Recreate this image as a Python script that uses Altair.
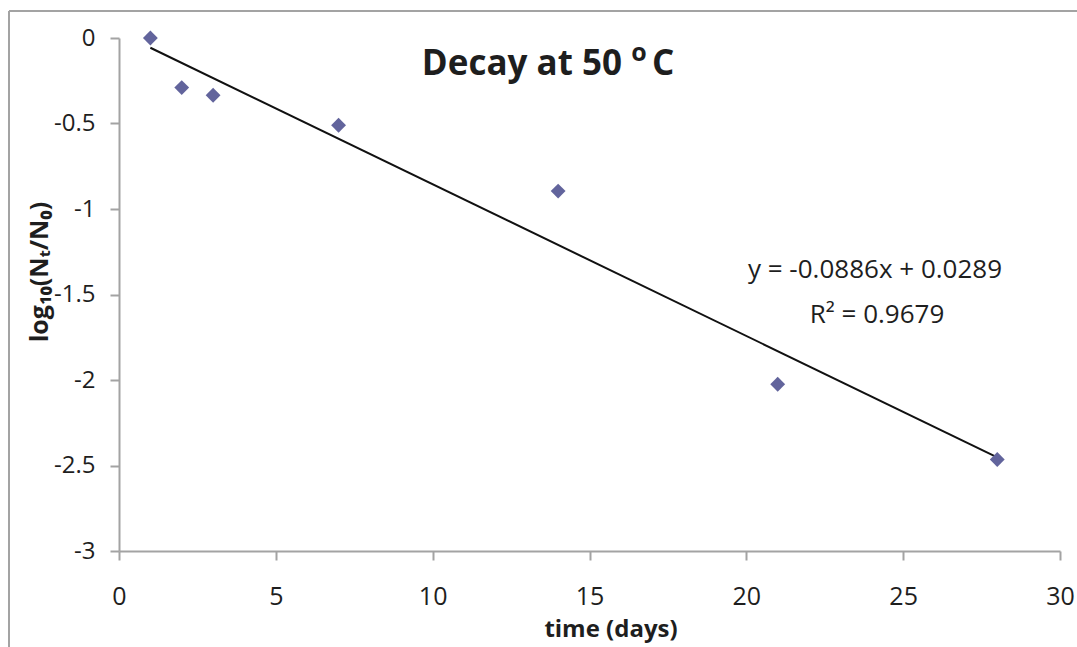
import altair as alt
import pandas as pd

# ---- data ----
days = [1, 2, 3, 7, 14, 21, 28]
log_ratio = [0.0, -0.29, -0.335, -0.51, -0.895, -2.025, -2.465]

x_ticks = [0, 5, 10, 15, 20, 25, 30]
y_ticks = [0, -0.5, -1, -1.5, -2, -2.5, -3]

title_main = "Decay at 50"
title_sup = "o"
title_end = "C"
x_title = "time (days)"
y_title = "log\u2081\u2080(N\u209c/N\u2080)"
equation = "y = -0.0886x + 0.0289"
r_squared = "R\u00b2 = 0.9679"

df = pd.DataFrame({"days": days, "log_ratio": log_ratio})
one = pd.DataFrame({"k": [0]})

W, H = 941, 513
FONT = "Open Sans"
GRAY = "#a3a3a3"
TXT = "#1e1e1e"

xs = alt.Scale(domain=[0, 30], nice=False, zero=False)
ys = alt.Scale(domain=[-3, 0], nice=False, zero=False)

points = alt.Chart(df).mark_point(
    shape="diamond", filled=True, size=220, color="#62649c", opacity=1
).encode(
    x=alt.X("days:Q", scale=xs, title=None,
            axis=alt.Axis(values=x_ticks, grid=False, labelFontSize=25,
                          labelPadding=24, labelFlush=False,
                          labelExpr="datum.value + ''")),
    y=alt.Y("log_ratio:Q", scale=ys, title=None,
            axis=alt.Axis(values=y_ticks, grid=False, labelFontSize=24,
                          labelPadding=15, labelFlush=False,
                          labelExpr="datum.value + ''")),
)

trend = alt.Chart(df).transform_regression(
    "days", "log_ratio"
).mark_line(color="#111111", strokeWidth=2).encode(
    x=alt.X("days:Q", scale=xs),
    y=alt.Y("log_ratio:Q", scale=ys),
)

def label(text, px, py, size, bold=False, angle=0, align="center"):
    return alt.Chart(one).mark_text(
        text=text, font=FONT, fontSize=size,
        fontWeight="bold" if bold else "normal",
        align=align, baseline="middle", color=TXT, angle=angle,
    ).encode(x=alt.value(px - 119), y=alt.value(py - 38))

title_a = label(title_main, 622, 64, 35, bold=True, align="right")
title_b = label(title_sup, 639, 53, 25, bold=True)
title_c = label(title_end, 652, 64, 35, bold=True, align="left")
eq_t = label(equation, 875, 270, 26)
r2_t = label(r_squared, 877, 315, 26)
xt = label(x_title, 611, 630, 24, bold=True)
yt = label(y_title, 40, 272, 25, bold=True, angle=270)

frame_left = alt.Chart(one).mark_rule(color=GRAY, strokeWidth=2).encode(
    x=alt.value(9 - 119), y=alt.value(11 - 38), y2=alt.value(H + 120))
frame_top = alt.Chart(one).mark_rule(color=GRAY, strokeWidth=2).encode(
    y=alt.value(11 - 38), x=alt.value(9 - 119), x2=alt.value(W + 60))

chart = alt.layer(
    frame_left, frame_top, trend, points,
    title_a, title_b, title_c, eq_t, r2_t, xt, yt
).properties(
    width=W, height=H,
    padding={"left": 119, "top": 38, "right": 17, "bottom": 96},
    autosize=alt.AutoSizeParams(type="none"),
    background="white",
).configure_view(
    stroke=None
).configure_axis(
    domainColor=GRAY, domainWidth=2, tickColor=GRAY, tickWidth=2, tickSize=9,
    labelColor=TXT, labelFont=FONT,
)

chart.save("out.html", embed_options={"renderer": "svg", "actions": False})
